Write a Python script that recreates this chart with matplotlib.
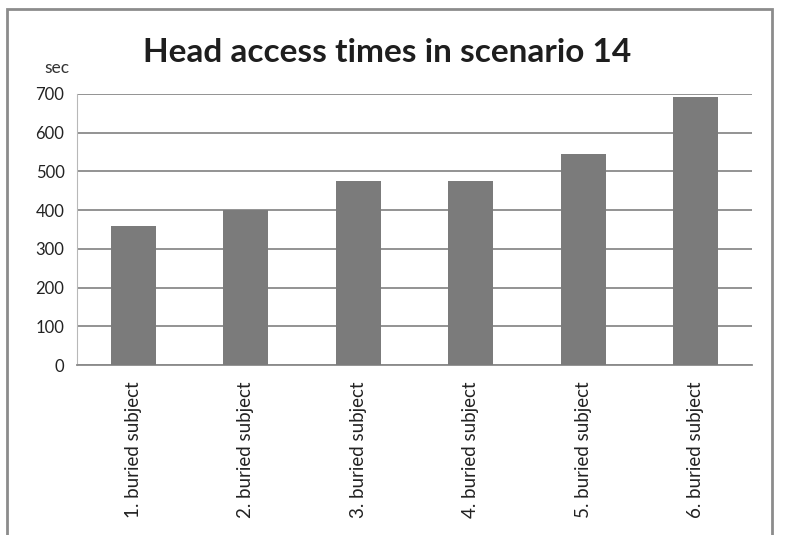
import matplotlib.pyplot as plt
from matplotlib.patches import Rectangle

# access time per buried subject, seconds
subjects = ['1. buried subject', '2. buried subject', '3. buried subject',
            '4. buried subject', '5. buried subject', '6. buried subject']
times = [358, 400, 474, 474, 545, 692]
yticks = [0, 100, 200, 300, 400, 500, 600, 700]

plt.rcParams['font.family'] = ['Lato', 'DejaVu Sans']

fig = plt.figure(figsize=(7.87, 5.35), dpi=100)
ax = fig.add_axes([77/787, 1 - 365/535, 675/787, 271/535])

xs = list(range(len(subjects)))
ax.bar(xs, times, width=0.4, color='#7b7b7b', zorder=3)

ax.set_xlim(-0.5, len(subjects) - 0.5)
ax.set_ylim(0, 700)
ax.set_yticks(yticks)
ax.set_xticks(xs)
ax.set_xticklabels(subjects, rotation=90, fontsize=13.5, color='#222222')
ax.tick_params(axis='y', labelsize=12, labelcolor='#222222', length=0, pad=9)
ax.tick_params(axis='x', length=0, pad=12)
ax.yaxis.grid(True, color='#8a8a8a', linewidth=1.3, zorder=0)

for side in ('top', 'right'):
    ax.spines[side].set_visible(False)
ax.spines['left'].set_color('#b8b8b8')
ax.spines['bottom'].set_color('#8a8a8a')
ax.spines['bottom'].set_linewidth(1.3)

fig.text(387/787, 1 - 53/535, 'Head access times in scenario 14',
         ha='center', va='center', fontsize=24, fontweight='bold', color='#1e1e1e')
fig.text(57/787, 1 - 68/535, 'sec', ha='center', va='center', fontsize=12.5, color='#333333')

# outer chart frame
fig.patches.append(Rectangle((7/787, -0.05), 765/787, 1.05 - 9/535,
                             transform=fig.transFigure, fill=False,
                             edgecolor='#8c8c8c', linewidth=2))

fig.savefig('out.png', dpi=100)
